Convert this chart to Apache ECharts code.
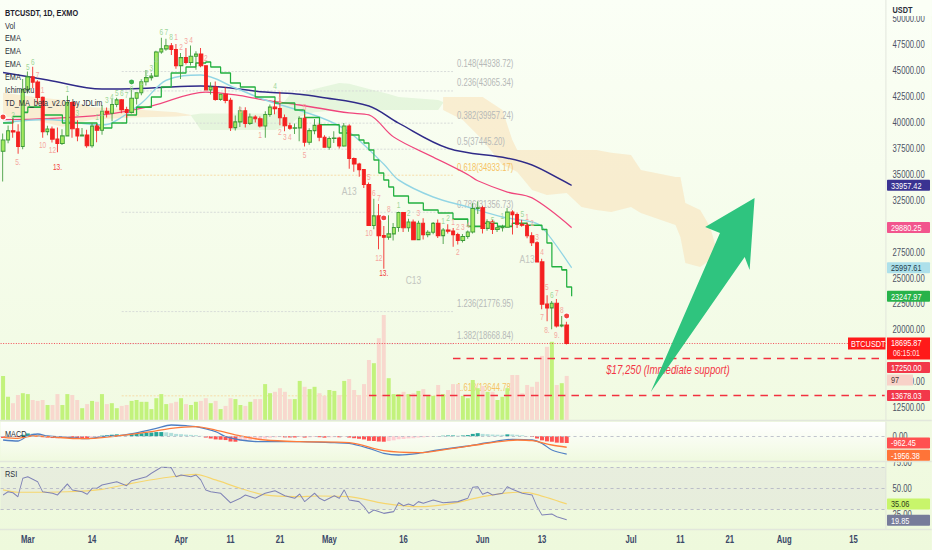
<!DOCTYPE html>
<html>
<head>
<meta charset="utf-8">
<script src="https://cdn.jsdelivr.net/npm/echarts@6/dist/echarts.min.js"></script>
<style>
html,body{margin:0;padding:0;background:#f4fbe6;overflow:hidden;}
#wrap{width:932px;height:550px;overflow:hidden;position:relative;}
#chart{height:550px;transform-origin:0 0;}
</style>
</head>
<body>
<div id="wrap"><div id="chart"></div></div>
<script>
// ================= DATA =================
const startDay = '2022-02-24';
const dayCount = 179;
const categories = [];
(function () {
  const t0 = Date.parse(startDay + 'T00:00:00Z');
  for (let i = 0; i < dayCount; i++) categories.push(new Date(t0 + i * 86400000).toISOString().slice(0, 10));
})();

const tickDates = ['2022-03-01','2022-03-14','2022-04-01','2022-04-11','2022-04-21','2022-05-01','2022-05-16',
  '2022-06-01','2022-06-13','2022-07-01','2022-07-11','2022-07-21','2022-08-01','2022-08-15'];
// 17500 and 30000 sit fully under value boxes in the reference
const priceTicks = [12500,15000,20000,22500,25000,27500,32500,35000,37500,40000,42500,45000,47500,50000];

// daily candles from 2022-02-24 : [open, high, low, close]
const ohlc = [
[37250,38970,34320,38330],[38330,39730,38010,39220],[39220,40300,38550,39110],[39110,39850,37000,37700],[37700,44230,37450,43190],
[43190,44950,42830,44420],[44420,45400,43330,43920],[43920,44100,41830,42450],[42450,42520,38550,39140],[39140,39700,38800,39400],
[39400,39640,38090,38420],[38420,39550,37150,37990],[37990,39360,37860,38730],[38730,42600,38660,41940],[41940,42050,38540,39420],
[39420,40240,38220,38730],[38730,39490,38660,38810],[38810,39310,37580,37780],[37780,39950,37580,39670],[39670,39870,38110,39280],
[39280,41720,38830,41110],[41110,41480,40500,40920],[40920,42330,40130,41760],[41760,42400,41500,42200],[42200,42290,40910,41260],
[41260,41540,40470,41000],[41000,43360,40890,42360],[42360,42890,41750,42890],[42890,44200,42650,43960],[43960,45090,43580,44350],
[44350,44800,44070,44500],[44500,46940,44420,46820],[46820,48190,46660,47130],[47130,48100,46950,47430],[47430,47700,46540,47070],
[47070,47600,45200,45510],
[45510,46720,44210,46280],[46280,47210,45620,45810],[45810,47440,45530,46410],[46410,46890,45120,46620],[46620,47200,45360,45500],
[45500,45510,43120,43170],[43170,43900,42730,43440],[43440,43970,42110,42250],[42250,42800,42130,42750],[42750,43430,41870,42160],
[42160,42420,39200,39530],[39530,40700,39250,40080],[40080,41560,39580,41150],[41150,41500,39550,39940],[39940,40900,39770,40550],
[40550,40710,40010,40380],[40380,40600,39550,39680],[39680,41100,38540,40800],[40800,41760,40570,41500],[41500,42200,40810,41360],
[41360,42980,39750,40480],[40480,40800,39180,39710],[39710,39990,39310,39470],[39470,39930,38900,39500],[39500,40620,38200,40430],
[40430,40800,37700,38110],[38110,39470,37880,39240],[39240,40370,38880,39740],[39740,39920,38200,38600],[38600,38800,37580,37630],
[37630,38680,37390,38470],[38470,39170,38050,38530],[38530,38640,37510,37750],[37750,39980,37680,39690],[39690,39850,35570,36550],
[36550,36650,35260,36010],[36010,36140,34780,35470],[35470,35500,33710,34040],[34040,34240,30030,30080],[30080,32660,29730,31010],
[31010,32160,27790,29100],[29100,30030,25900,28960],[28960,31080,28700,29270],[29270,30330,28640,29890],[29890,31410,29490,31330],
[31330,31330,29450,29870],[29870,30730,29480,30420],[30420,30660,28650,28720],[28720,30530,28680,30300],[30300,30770,28730,29200],
[29200,29620,28950,29430],[29430,30420,29240,30290],[30290,30660,28870,29100],[29100,29830,28300,29650],[29650,30200,29310,29540],
[29540,29850,28020,29200],[29200,29390,28260,28630],[28630,29250,28450,29020],[29020,29600,28810,29460],[29460,32220,29300,31720],
[31720,32400,31200,31800],
[31800,31980,29310,29800],[29800,30690,29580,30450],[30450,30670,29250,29700],[29700,29950,29450,29860],[29860,30150,29500,29910],
[29910,31760,29880,31370],[31370,31560,29220,31130],[31130,31330,29840,30200],[30200,30640,29950,30110],[30110,30380,28850,29090],
[29090,29440,28100,28420],[28420,28560,26560,26570],[26570,26880,22000,22490],[22490,23360,20840,22130],[22130,22800,20060,22580],
[22580,22980,20230,20380],[20380,21350,20260,20470],[20470,20800,18600,18695.87]
];

const volume = [
97,51,37,55,59,
57,44,42,44,33,33,57,33,57,55,44,26,35,42,40,57,35,37,26,31,33,42,44,40,40,24,48,57,35,37,40,
48,35,33,40,42,48,37,42,24,31,48,46,33,31,40,46,46,79,59,62,70,62,46,46,86,73,68,73,59,53,
66,64,55,86,90,66,55,79,132,125,180,231,92,57,57,62,57,59,64,68,53,53,77,57,66,79,79,53,48,88,70,
75,62,62,44,51,70,99,99,59,77,73,84,141,161,172,77,81,97
];

const emaNavy = [['2022-02-24',44850],['2022-03-05',44120],['2022-03-16',43250],['2022-03-26',43350],['2022-04-05',43540],
['2022-04-18',42960],['2022-04-25',42750],['2022-04-29',42480],['2022-05-09',41610],['2022-05-15',39960],['2022-05-25',37540],
['2022-06-06',36580],['2022-06-11',35920],['2022-06-17',34470],['2022-06-19',33957.42]];
const emaPink = [['2022-02-24',40300],['2022-03-05',40400],['2022-03-16',40750],['2022-03-26',41610],['2022-04-06',42960],
['2022-04-12',42680],['2022-04-18',42190],['2022-04-25',41710],['2022-05-05',40940],['2022-05-09',40750],['2022-05-14',38620],
['2022-05-22',36690],['2022-05-29',35000],['2022-05-31',34400],['2022-06-06',33310],['2022-06-11',32740],['2022-06-19',29880.25]];
const emaBlue = [['2022-02-24',40000],['2022-03-05',40300],['2022-03-16',39800],['2022-03-18',39970],['2022-03-24',41900],
['2022-03-29',44100],['2022-04-05',44600],['2022-04-12',43350],['2022-04-18',42190],['2022-04-29',40550],['2022-05-05',39100],
['2022-05-12',36000],['2022-05-15',34470],['2022-05-22',32830],['2022-05-29',31870],['2022-06-05',30900],['2022-06-11',30420],
['2022-06-13',29940],['2022-06-19',25997.61]];
const emaGreen = [['2022-02-24',39970],['2022-02-26',40600],['2022-02-28',41000],['2022-03-01',41500],['2022-03-04',40750],
['2022-03-08',39970],['2022-03-15',39490],['2022-03-18',39970],['2022-03-21',40750],['2022-03-23',41500],['2022-03-26',42480],
['2022-03-28',43450],['2022-03-30',44800],['2022-04-02',45380],['2022-04-04',45760],['2022-04-06',45860],['2022-04-07',45380],
['2022-04-09',44800],['2022-04-11',43830],['2022-04-13',43450],['2022-04-16',42480],['2022-04-20',41900],['2022-04-24',41230],
['2022-04-26',40500],['2022-04-29',39800],['2022-05-03',39010],['2022-05-05',38820],['2022-05-07',38330],['2022-05-08',38040],
['2022-05-09',37370],['2022-05-10',36400],['2022-05-11',35150],['2022-05-12',34470],['2022-05-13',33800],['2022-05-14',32930],
['2022-05-17',32250],['2022-05-20',31580],['2022-05-23',31290],['2022-05-26',30700],['2022-05-29',30000],['2022-06-01',30300],
['2022-06-04',30000],['2022-06-07',30300],['2022-06-10',30100],['2022-06-13',29700],['2022-06-14',28400],['2022-06-15',26100],
['2022-06-17',25800],['2022-06-18',24150],['2022-06-19',23247.97]];

// Ichimoku cloud: [date, upper, lower]
const cloudBearA = [['2022-02-24',42900,40600],['2022-03-02',42500,40300],['2022-03-08',42200,39600],['2022-03-14',41500,40300],
['2022-03-22',41300,40500],['2022-03-31',41000,40600],['2022-04-03',40750,40700]];
const cloudBull = [['2022-04-03',40750,40700],['2022-04-05',40900,39300],['2022-04-20',40900,39300],['2022-04-23',42700,39800],
['2022-04-25',42770,40600],['2022-04-28',43250,41000],['2022-05-03',43840,41230],['2022-05-05',43750,41230],['2022-05-09',43250,41230],
['2022-05-13',42770,41230],['2022-05-15',42480,41230],['2022-05-17',42400,41230],['2022-05-23',42190,41230],['2022-05-24',42000,41900]];
const cloudBearB = [['2022-05-24',42480,41230],['2022-05-28',42480,40260],['2022-06-01',42480,38330],['2022-06-05',41230,35920],
['2022-06-07',38330,35500],['2022-06-08',37370,35240],['2022-06-11',37370,33510],['2022-06-14',37370,33030],['2022-06-18',37370,33220],
['2022-06-21',37370,31870],['2022-06-24',37370,31580],['2022-06-27',37100,31390],['2022-07-01',36890,31870],['2022-07-03',35440,31290],
['2022-07-10',34760,30130],['2022-07-11',34760,28970],['2022-07-12',32250,26460],['2022-07-15',31580,26080],['2022-07-17',29940,26750],
['2022-07-18',28300,27800]];

// Fibonacci levels
const fibLevels = ['0.148','0.236','0.382','0.5','0.618','0.786','1.236','1.382','1.618'];
const fibPrices = [44938.72,43065.34,39957.24,37445.20,34933.17,31356.73,21776.95,18668.84,13644.78];
const fibOrange = [false,false,false,false,true,false,false,false,true];
const fibStart = '2022-03-20', fibEnd = '2022-05-26';

// support lines
const supportPrices = [17250.00, 13678.03];
const supportStart = ['2022-05-26', '2022-05-09'];
const supportText = '$17,250 (Immediate support)';
const supportTextAt = ['2022-06-26', 16140];
const lastPrice = 18695.87;

// arrow (date, price)
const arrowPts = [['2022-07-05',14016],['2022-07-19',29359],['2022-07-16',29937],['2022-07-26',32736],['2022-07-25',25788],['2022-07-24',27043]];

// MACD
const macdHist = [
-200,-150,-50,-80,150,
300,280,150,-100,-150,-200,-220,-200,-60,-150,-200,-200,-220,-120,-60,60,100,160,200,180,150,200,250,320,380,400,450,450,420,360,250,
220,170,140,110,40,-150,-250,-350,-380,-420,-580,-600,-520,-500,-420,-370,-340,-250,-160,-120,-100,-130,-140,-140,-90,-150,-130,-90,-110,-160,
-130,-110,-120,-40,-150,-220,-280,-350,-500,-520,-580,-600,-530,-450,-330,-300,-240,-220,-150,-120,-80,-20,20,50,80,80,60,80,120,250,330,
250,220,180,160,150,200,190,150,100,20,-90,-250,-450,-560,-600,-700,-720,-740];
const macdLine = [['2022-02-24',-413],['2022-02-27',-522],['2022-03-01',22],['2022-03-03',240],['2022-03-05',22],['2022-03-09',-120],
['2022-03-13',-272],['2022-03-16',-54],['2022-03-20',98],['2022-03-24',489],['2022-03-27',859],['2022-03-30',1217],['2022-04-02',1141],
['2022-04-04',1033],['2022-04-08',489],['2022-04-10',-54],['2022-04-13',-413],['2022-04-17',-598],['2022-04-21',-598],['2022-04-25',-598],
['2022-05-02',-707],['2022-05-05',-772],['2022-05-09',-1315],['2022-05-12',-1859],['2022-05-15',-2043],['2022-05-19',-1859],
['2022-05-23',-1500],['2022-05-29',-1065],['2022-06-02',-707],['2022-06-07',-337],['2022-06-11',-413],['2022-06-13',-772],
['2022-06-15',-1500],['2022-06-18',-1956.38]];
const macdSignal = [['2022-02-24',-120],['2022-02-27',-228],['2022-03-02',22],['2022-03-05',-54],['2022-03-12',-272],['2022-03-19',22],
['2022-03-26',489],['2022-03-30',859],['2022-04-04',1033],['2022-04-08',663],['2022-04-13',22],['2022-04-18',-413],['2022-04-25',-598],
['2022-05-05',-707],['2022-05-12',-1576],['2022-05-19',-1793],['2022-05-26',-1315],['2022-06-01',-848],['2022-06-08',-413],
['2022-06-11',-489],['2022-06-15',-957],['2022-06-18',-1200]];

// RSI
const rsi = [['2022-02-24',43.6],['2022-02-25',46.7],['2022-02-26',45.8],['2022-02-27',41.9],['2022-02-28',59.6],['2022-03-01',61.1],
['2022-03-03',56.3],['2022-03-04',46.7],['2022-03-06',45.2],['2022-03-07',43.6],['2022-03-09',54.1],['2022-03-10',48.4],['2022-03-12',46.7],
['2022-03-13',44.2],['2022-03-14',50],['2022-03-15',50],['2022-03-16',53.2],['2022-03-19',56.3],['2022-03-21',52.5],['2022-03-22',57.3],
['2022-03-25',61.1],['2022-03-26',64.4],['2022-03-28',70.1],['2022-03-30',69.8],['2022-03-31',61.1],['2022-04-01',62.8],['2022-04-03',61.1],
['2022-04-04',62.8],['2022-04-05',58],['2022-04-06',48.4],['2022-04-07',46.7],['2022-04-09',45.2],['2022-04-11',36.2],['2022-04-13',40.4],
['2022-04-14',43.6],['2022-04-16',40.4],['2022-04-18',45.2],['2022-04-20',47.7],['2022-04-22',42.9],['2022-04-24',40.4],['2022-04-25',44.5],
['2022-04-26',37.2],['2022-04-28',45.2],['2022-04-29',40.4],['2022-04-30',38.1],['2022-05-02',42.9],['2022-05-03',40.4],['2022-05-04',48.4],
['2022-05-05',38.8],['2022-05-07',37.2],['2022-05-08',32.4],['2022-05-09',26.0],['2022-05-10',29.2],['2022-05-12',26.0],['2022-05-14',27.6],
['2022-05-15',36.2],['2022-05-16',33.3],['2022-05-17',34.9],['2022-05-18',33.3],['2022-05-19',37.2],['2022-05-20',35.6],['2022-05-22',38.8],
['2022-05-24',36.2],['2022-05-27',37.2],['2022-05-29',40.4],['2022-05-30',51.0],['2022-05-31',51.5],['2022-06-01',44.2],['2022-06-02',46.2],
['2022-06-03',43.6],['2022-06-05',45.2],['2022-06-06',51.5],['2022-06-07',49.0],['2022-06-09',45.2],['2022-06-11',43.6],['2022-06-12',32.4],
['2022-06-13',24.4],['2022-06-15',25.4],['2022-06-16',22.8],['2022-06-18',19.85]];
const rsiMa = [['2022-02-24',48.4],['2022-02-27',46.2],['2022-03-09',46.7],['2022-03-16',49],['2022-03-22',54.8],['2022-03-28',59.6],
['2022-04-04',63.4],['2022-04-08',58],['2022-04-13',50],['2022-04-18',43.6],['2022-04-24',42],['2022-04-29',42.6],['2022-05-05',42],
['2022-05-12',35.6],['2022-05-19',32.4],['2022-05-26',35.6],['2022-06-01',42],['2022-06-08',46.2],['2022-06-11',45.2],['2022-06-18',35.06]];

// TD sequential marks [date, price, text, kind]  kind: r=red count, k=grey label, p=pale red digit, g=pale green digit
const tdMarks = [
['2022-05-12',25450,'13.','r'],['2022-05-18',24820,'C13','k'],['2022-05-05',33400,'A13','k'],['2022-06-10',26850,'A13','k'],['2022-03-07',35700,'13.','r'],
['2022-03-01',45380,'5','g'],['2022-03-02',45860,'6','g'],['2022-03-03',44600,'7','p'],['2022-03-04',43160,'1','p'],
['2022-02-26',40750,'2','g'],['2022-03-04',37850,'10','p'],['2022-03-06',37370,'12','p'],['2022-02-27',36210,'5.','p'],
['2022-03-09',43250,'1','g'],['2022-03-11',40940,'3','g'],['2022-03-15',40550,'1','g'],['2022-03-16',40940,'2','g'],['2022-03-17',42190,'3','g'],
['2022-03-18',42480,'4','g'],['2022-03-19',42870,'5','g'],['2022-03-20',42870,'6','g'],['2022-03-21',42680,'7','g'],['2022-03-22',43450,'8','g'],
['2022-03-24',43930,'1','g'],['2022-03-25',44800,'2','g'],['2022-03-26',45280,'3','g'],['2022-03-27',46050,'4','g'],['2022-03-28',48750,'6','g'],
['2022-03-29',48750,'7','g'],['2022-03-30',48270,'8','g'],['2022-03-31',48270,'1','p'],['2022-04-01',47310,'2','p'],['2022-04-02',47890,'3','p'],
['2022-04-03',47980,'4','p'],['2022-04-06',46250,'2','p'],['2022-04-13',41230,'8','p'],['2022-04-20',43540,'4','g'],
['2022-04-21',42190,'1','p'],['2022-04-26',41520,'5','p'],['2022-04-17',38820,'1','p'],['2022-04-21',39100,'2','p'],['2022-04-22',38620,'3','p'],
['2022-04-23',38620,'4','p'],['2022-04-26',36890,'5','p'],
['2022-05-09',34760,'5','p'],['2022-05-10',33220,'6','p'],['2022-05-11',32740,'7','p'],['2022-05-13',31680,'8','p'],['2022-05-15',32060,'1','g'],
['2022-05-17',31290,'2','g'],['2022-05-19',31290,'3','p'],['2022-05-24',30520,'1','g'],['2022-05-25',30810,'2','g'],['2022-05-26',30420,'1','p'],
['2022-05-27',29940,'2','p'],['2022-05-28',29940,'3','p'],['2022-05-29',30130,'4','p'],
['2022-06-03',30610,'5','g'],['2022-06-05',31000,'1','g'],
['2022-06-09',31190,'5','g'],['2022-06-10',30900,'1','p'],['2022-06-11',30320,'2','p'],['2022-06-12',28970,'3','p'],['2022-06-13',27530,'4','p'],
['2022-06-14',24150,'5','p'],['2022-06-15',23380,'6','g'],['2022-06-16',23570,'7','p'],['2022-06-17',21930,'8','p'],
['2022-05-09',29360,'10','p'],['2022-05-11',26950,'12','p'],['2022-05-27',27530,'2','p'],
['2022-06-13',21250,'7','p'],['2022-06-14',20000,'8.','p'],['2022-06-16',19520,'9.','p']
];
// small signal circles [date, price, color]
const signalDots = [['2022-06-18',21350,'#f2433f'],['2022-05-12',30810,'#f2433f'],['2022-03-22',43930,'#3fb34f'],['2022-02-24',40550,'#f2433f']];

// ================= CHART =================
// the reference picture is horizontally compressed: draw in a wider space and squeeze it
const S = 0.77;
const CW = 932 / S;
const X = v => v / S;
document.getElementById('chart').style.width = CW + 'px';
document.getElementById('chart').style.transform = 'scaleX(' + S + ')';

const FF = "'Liberation Sans',Arial,sans-serif";
const chart = echarts.init(document.getElementById('chart'), null, {renderer: 'svg', width: CW, height: 550});
const GL = X(0.6), GW = X(885);

function bandSeries(arr, fill) {
  return {
    type: 'custom', xAxisIndex: 0, yAxisIndex: 0, z: 1, silent: true, data: arr, encode: {x: 0, y: [1, 2]},
    renderItem: function (params, api) {
      if (params.dataIndex !== 0) return null;
      const top = arr.map(r => api.coord([r[0], r[1]]));
      const bot = arr.map(r => api.coord([r[0], r[2]])).reverse();
      return {type: 'polygon', shape: {points: top.concat(bot)}, style: {fill: fill}};
    }
  };
}
function lineSeries(data, color, width, extra) {
  return Object.assign({type: 'line', xAxisIndex: 0, yAxisIndex: 0, data: data, symbol: 'none', smooth: 0.35, z: 3, silent: true,
    lineStyle: {color: color, width: width}}, extra || {});
}

const upColor = '#a3ea5f', upBorder = '#3f9b3b', downColor = '#f42020';
const axisLabelStyle = {color: '#4c5264', fontSize: 10, fontFamily: FF, margin: X(7)};
const tdColors = {r: '#f2433f', k: '#c3c6c0', p: '#f5a7a0', g: '#9fd69a'};

const option = {
  animation: false,
  backgroundColor: {type: 'linear', x: 0, y: 0, x2: 0, y2: 1,
    colorStops: [{offset: 0, color: '#fbfff6'}, {offset: 1, color: '#eef9dc'}]},
  grid: [
    {left: GL, top: 0, width: GW, height: 420},
    {left: GL, top: 300, width: GW, height: 120},
    {left: GL, top: 422, width: GW, height: 38, show: true, borderWidth: 0,
      backgroundColor: {type: 'linear', x: 0, y: 0, x2: 0, y2: 1, colorStops: [{offset: 0, color: 'rgba(255,255,255,1)'}, {offset: 1, color: 'rgba(255,255,255,0)'}]}},
    {left: GL, top: 462, width: GW, height: 67}
  ],
  xAxis: [0, 1, 2, 3].map(i => ({
    type: 'category', gridIndex: i, data: categories, boundaryGap: true, show: i === 3,
    axisLine: {show: true, lineStyle: {color: '#dbe1d2'}}, axisTick: {show: false}, splitLine: {show: false},
    axisLabel: {
      interval: (idx, val) => tickDates.indexOf(val) >= 0,
      formatter: v => { const m = ['Jan','Feb','Mar','Apr','May','Jun','Jul','Aug','Sep']; const p = v.split('-');
        return p[2] === '01' ? m[+p[1] - 1] : String(+p[2]); },
      color: '#3a4868', fontSize: 10, fontFamily: FF, fontWeight: 'bold', margin: 6
    }
  })),
  yAxis: [
    {type: 'value', gridIndex: 0, position: 'right', min: 11313, max: 51842, axisLine: {show: true, lineStyle: {color: '#dfe3da'}},
      axisTick: {show: false}, splitLine: {show: false},
      axisLabel: Object.assign({customValues: priceTicks, formatter: v => v.toFixed(2)}, axisLabelStyle)},
    {type: 'value', gridIndex: 1, min: 0, max: 264, show: false},
    {type: 'value', gridIndex: 2, position: 'right', min: -2587, max: 1543, axisLine: {show: true, lineStyle: {color: '#dfe3da'}},
      axisTick: {show: false}, splitLine: {show: false},
      axisLabel: Object.assign({customValues: [0], formatter: v => v.toFixed(2)}, axisLabelStyle)},
    {type: 'value', gridIndex: 3, position: 'right', min: 10.98, max: 75.2, axisLine: {show: true, lineStyle: {color: '#dfe3da'}},
      axisTick: {show: false}, splitLine: {show: false},
      axisLabel: Object.assign({customValues: [25, 50, 75], formatter: v => v.toFixed(2)}, axisLabelStyle)}
  ],
  series: [
    bandSeries(cloudBearA, 'rgba(250,222,180,0.5)'),
    bandSeries(cloudBull, 'rgba(185,228,175,0.30)'),
    bandSeries(cloudBearB, 'rgba(250,222,180,0.52)'),
    { // fibonacci levels
      type: 'custom', xAxisIndex: 0, yAxisIndex: 0, z: 2, silent: true,
      data: fibPrices.map(p => [fibStart, p]), encode: {x: 0, y: 1},
      renderItem: function (params, api) {
        const i = params.dataIndex, p = fibPrices[i];
        const a = api.coord([fibStart, p]), b = api.coord([fibEnd, p]);
        const org = fibOrange[i];
        return {type: 'group', children: [
          {type: 'line', shape: {x1: a[0], y1: a[1], x2: b[0], y2: b[1]},
            style: {stroke: org ? '#f7d9a0' : '#d4d7d6', lineWidth: 1, lineDash: [2.6, 2]}},
          {type: 'text', style: {x: b[0] + X(4), y: a[1] - 8, text: fibLevels[i] + '(' + p.toFixed(2) + ')',
            fill: org ? '#f6c365' : '#b6b9b8', fontSize: 10, fontFamily: FF, verticalAlign: 'middle', align: 'left'}}
        ]};
      }
    },
    { // volume
      type: 'bar', xAxisIndex: 1, yAxisIndex: 1, z: 2, silent: true, barWidth: X(4),
      data: volume.map((v, i) => ({value: v, itemStyle: {color: ohlc[i][3] >= ohlc[i][0] ? '#c2f27c' : '#f8d8ce'}}))
    },
    lineSeries(emaNavy, '#2f2a88', 1.5),
    lineSeries(emaPink, '#f0457c', 1.3),
    lineSeries(emaBlue, '#92d5e4', 1.5),
    lineSeries(emaGreen, '#22b03f', 1.6, {smooth: false, step: 'end', z: 4}),
    {
      type: 'candlestick', xAxisIndex: 0, yAxisIndex: 0, z: 5, silent: true, barWidth: X(3.8),
      data: ohlc.map(r => [r[0], r[3], r[2], r[1]]),
      itemStyle: {color: upColor, color0: downColor, borderColor: upBorder, borderColor0: downColor, borderWidth: 1.1},
      markLine: {silent: true, symbol: 'none', label: {show: false},
        lineStyle: {color: '#f23645', type: [1.3, 2], width: 1}, data: [{yAxis: lastPrice}]}
    },
    { // support lines
      type: 'custom', xAxisIndex: 0, yAxisIndex: 0, z: 6, silent: true,
      data: supportPrices.map((p, i) => [supportStart[i], p]), encode: {x: 0, y: 1},
      renderItem: function (params, api) {
        const i = params.dataIndex, p = supportPrices[i];
        const a = api.coord([supportStart[i], p]), b = api.coord([categories[categories.length - 1], p]);
        const ch = [{type: 'line', shape: {x1: a[0], y1: a[1], x2: b[0] + 2, y2: b[1]},
          style: {stroke: '#f2303f', lineWidth: 1.6, lineDash: [X(7.5), X(6)]}}];
        if (i === 0) {
          const t = api.coord(supportTextAt);
          ch.push({type: 'text', style: {x: t[0], y: t[1], text: supportText, fill: '#f23645', fontSize: 12.5,
            fontStyle: 'italic', fontFamily: FF, verticalAlign: 'middle', align: 'left'}});
        }
        return {type: 'group', children: ch};
      }
    },
    { // TD sequential marks
      type: 'custom', xAxisIndex: 0, yAxisIndex: 0, z: 6, silent: true,
      data: tdMarks.map(r => [r[0], r[1]]), encode: {x: 0, y: 1},
      renderItem: function (params, api) {
        const r = tdMarks[params.dataIndex], c = api.coord([r[0], r[1]]);
        const big = r[3] === 'k';
        return {type: 'text', style: {x: c[0], y: c[1], text: r[2], fill: tdColors[r[3]],
          fontSize: big ? 11 : 8.5, fontFamily: FF, align: 'center', verticalAlign: 'middle'}};
      }
    },
    { // signal circles
      type: 'custom', xAxisIndex: 0, yAxisIndex: 0, z: 6, silent: true,
      data: signalDots.map(r => [r[0], r[1]]), encode: {x: 0, y: 1},
      renderItem: function (params, api) {
        const r = signalDots[params.dataIndex], c = api.coord([r[0], r[1]]);
        return {type: 'ellipse', shape: {cx: c[0], cy: c[1], rx: X(3), ry: 3}, style: {fill: r[2], stroke: '#ffffff', lineWidth: 1.2}};
      }
    },
    { // arrow
      type: 'custom', xAxisIndex: 0, yAxisIndex: 0, z: 8, silent: true,
      data: arrowPts, encode: {x: 0, y: 1},
      renderItem: function (params, api) {
        if (params.dataIndex !== 0) return null;
        return {type: 'polygon', shape: {points: arrowPts.map(p => api.coord(p))}, style: {fill: 'rgba(38,194,122,0.96)'}};
      }
    },
    { // MACD histogram
      type: 'bar', xAxisIndex: 2, yAxisIndex: 2, z: 2, silent: true, barWidth: X(4),
      data: macdHist.map((v, i) => {
        const prev = i > 0 ? macdHist[i - 1] : v;
        const col = v >= 0 ? (v >= prev ? '#26a69a' : '#b2dfdb') : (v <= prev ? '#ff5252' : '#ffcdd2');
        return {value: v, itemStyle: {color: col}};
      }),
      markLine: {silent: true, symbol: 'none', label: {show: false}, lineStyle: {color: '#b9bdc8', type: [4, 4], width: 1},
        data: [{yAxis: 0}]}
    },
    {type: 'line', xAxisIndex: 2, yAxisIndex: 2, data: macdLine, symbol: 'none', smooth: 0.3, z: 3, silent: true,
      lineStyle: {color: '#4f7fc4', width: 1.3}},
    {type: 'line', xAxisIndex: 2, yAxisIndex: 2, data: macdSignal, symbol: 'none', smooth: 0.3, z: 3, silent: true,
      lineStyle: {color: '#ff7b3a', width: 1.3}},
    {type: 'line', xAxisIndex: 3, yAxisIndex: 3, data: rsiMa, symbol: 'none', smooth: 0.3, z: 3, silent: true,
      lineStyle: {color: '#f6d66e', width: 1.2}},
    {type: 'line', xAxisIndex: 3, yAxisIndex: 3, data: rsi, symbol: 'none', smooth: false, z: 4, silent: true,
      lineStyle: {color: '#7f82b6', width: 1.1},
      markLine: {silent: true, symbol: 'none', label: {show: false}, lineStyle: {color: '#b5b8c6', type: [4, 4], width: 1},
        data: [{yAxis: 70}, {yAxis: 50}, {yAxis: 30}]},
      markArea: {silent: true, itemStyle: {color: 'rgba(126,87,194,0.07)'}, data: [[{yAxis: 70}, {yAxis: 30}]]}}
  ]
};
chart.setOption(option);

// ---------- right-axis value boxes & header texts ----------
const boxes = [
  {axis: 0, value: 33957.42, bg: '#3a3392', fg: '#ffffff', dy: 0},
  {axis: 0, value: 29880.25, bg: '#f2558d', fg: '#ffffff', dy: 0},
  {axis: 0, value: 25997.61, bg: '#ade0ea', fg: '#24414a', dy: 0},
  {axis: 0, value: 23247.97, bg: '#27b34a', fg: '#ffffff', dy: 0},
  {axis: 0, value: 17250.00, bg: '#f2384a', fg: '#ffffff', dy: 9},
  {axis: 0, value: 13678.03, bg: '#f2384a', fg: '#ffffff', dy: 0},
  {axis: 2, value: -962.45, bg: '#ff5050', fg: '#ffffff', dy: -2},
  {axis: 2, value: -1956.38, bg: '#ff7438', fg: '#ffffff', dy: 1},
  {axis: 3, value: 35.06, bg: '#c8f56b', fg: '#2e3a1a', dy: 0},
  {axis: 3, value: 19.85, bg: '#777c9a', fg: '#ffffff', dy: 0.5}
];
const AX = X(887), BOXW = X(930) - X(887);
const TXT = X(891);
const g = [];
g.push({type: 'rect', shape: {x: AX, y: 0, width: CW - AX, height: 16}, style: {fill: '#fbfff6'}, z: 90});
g.push({type: 'text', style: {x: X(892.5), y: 9.5, text: 'USDT', fill: '#2a2e39', fontSize: 9.5, fontWeight: 'bold', fontFamily: FF, verticalAlign: 'middle'}, z: 91});
boxes.forEach(b => {
  const y = chart.convertToPixel({yAxisIndex: b.axis}, b.value) + b.dy;
  g.push({type: 'rect', shape: {x: AX, y: y - 5.5, width: BOXW, height: 11, r: 1}, style: {fill: b.bg}, z: 100});
  g.push({type: 'text', style: {x: TXT, y: y, text: b.value.toFixed(2), fill: b.fg, fontSize: 9.5, fontFamily: FF, verticalAlign: 'middle'}, z: 101});
});
// volume value box
const volY = chart.convertToPixel({yAxisIndex: 1}, volume[volume.length - 1]) + 4;
g.push({type: 'rect', shape: {x: AX, y: volY - 5.5, width: X(26), height: 11}, style: {fill: '#f8d2c8'}, z: 100});
g.push({type: 'text', style: {x: TXT, y: volY, text: String(volume[volume.length - 1]), fill: '#4a3a3a', fontSize: 9.5, fontFamily: FF, verticalAlign: 'middle'}, z: 101});
// last price box
const lpY = chart.convertToPixel({yAxisIndex: 0}, lastPrice);
g.push({type: 'rect', shape: {x: X(848), y: lpY - 6, width: X(885.5) - X(848), height: 12}, style: {fill: '#ff1a1a'}, z: 100});
g.push({type: 'text', style: {x: X(851), y: lpY, text: 'BTCUSDT', fill: '#ffffff', fontSize: 9.5, fontFamily: FF, verticalAlign: 'middle'}, z: 101});
g.push({type: 'rect', shape: {x: AX, y: lpY - 6, width: BOXW, height: 22}, style: {fill: '#ff1a1a'}, z: 100});
g.push({type: 'text', style: {x: TXT, y: lpY - 0.5, text: lastPrice.toFixed(2), fill: '#ffffff', fontSize: 9.5, fontFamily: FF, verticalAlign: 'middle'}, z: 101});
g.push({type: 'text', style: {x: X(893), y: lpY + 9.5, text: '06:15:01', fill: '#ffe3e3', fontSize: 9, fontFamily: FF, verticalAlign: 'middle'}, z: 101});
// header legend
const legendLines = ['Vol', 'EMA', 'EMA', 'EMA', 'EMA', 'Ichimoku', 'TD_MA_beta_v2.07 by JDLim'];
g.push({type: 'text', style: {x: X(5), y: 12.5, text: 'BTCUSDT, 1D, EXMO', fill: '#1e222d', fontSize: 9.5, fontWeight: 'bold', fontFamily: FF, verticalAlign: 'middle'}, z: 110});
legendLines.forEach((t, i) => g.push({type: 'text', style: {x: X(5), y: 25.3 + i * 12.85, text: t, fill: '#2a2e39', fontSize: 9.5, fontFamily: FF, verticalAlign: 'middle'}, z: 110}));
g.push({type: 'text', style: {x: X(5), y: 434, text: 'MACD', fill: '#2a2e39', fontSize: 9.5, fontFamily: FF, verticalAlign: 'middle'}, z: 110});
g.push({type: 'text', style: {x: X(5), y: 474, text: 'RSI', fill: '#2a2e39', fontSize: 9.5, fontFamily: FF, verticalAlign: 'middle'}, z: 110});
// pane separators
[420.5, 461.5, 529.5].forEach(y => g.push({type: 'line', shape: {x1: 0, y1: y, x2: CW, y2: y}, style: {stroke: '#e2e7dc', lineWidth: 1.5}, z: 50}));
chart.setOption({graphic: g});
</script>
</body>
</html>
